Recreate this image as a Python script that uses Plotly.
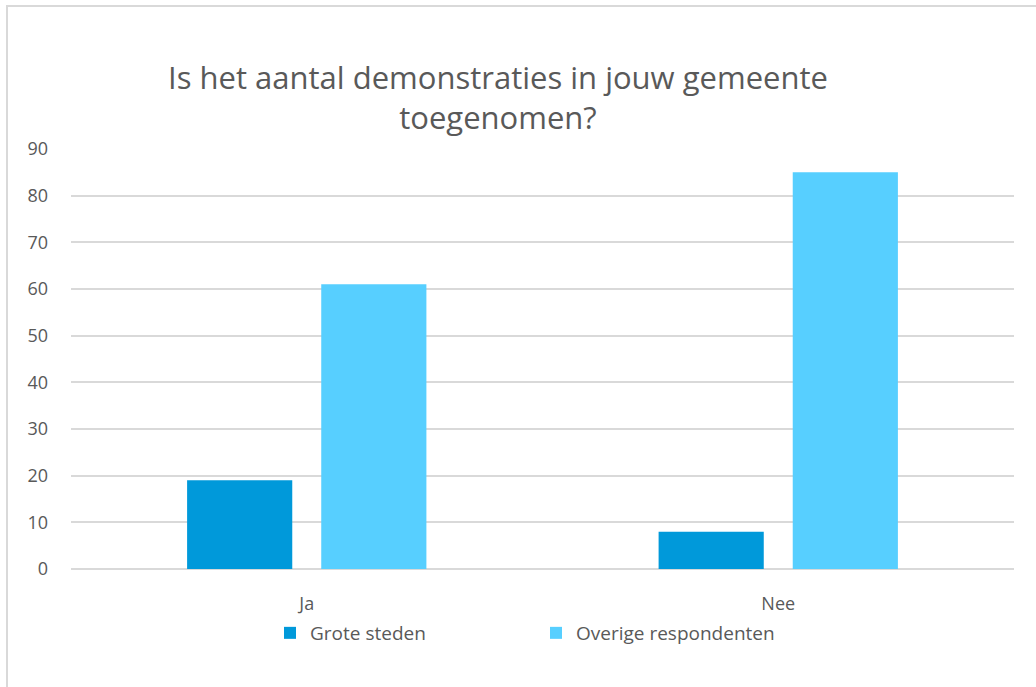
import plotly.graph_objects as go

categories = ["Ja", "Nee"]
grote_steden = [19, 8]
overige = [61, 85]
series_names = ["Grote steden", "Overige respondenten"]
title_text = "Is het aantal demonstraties in jouw gemeente<br>toegenomen?"
y_ticks = [0, 10, 20, 30, 40, 50, 60, 70, 80, 90]

FONT = "Open Sans"
GREY = "#595959"

fig = go.Figure()
fig.add_trace(go.Bar(name=series_names[0], x=categories, y=grote_steden,
                     marker=dict(color="#0099DA", line=dict(width=0))))
fig.add_trace(go.Bar(name=series_names[1], x=categories, y=overige,
                     marker=dict(color="#57CFFF", line=dict(width=0))))

fig.update_layout(
    width=1036, height=687,
    margin=dict(l=71, r=22, t=149, b=118, autoexpand=False),
    paper_bgcolor="white", plot_bgcolor="white",
    barmode="group", bargap=0.431, bargroupgap=0.216,
    font=dict(family=FONT, color=GREY, size=18),
    title=dict(text=title_text, x=498/1036, xanchor="center", y=1-89/687, yanchor="middle",
               font=dict(family=FONT, size=31, color=GREY)),
    xaxis=dict(showgrid=False, showline=False, ticks="", tickfont=dict(size=18, color=GREY),
               ticklabelstandoff=22, automargin=False),
    yaxis=dict(range=[0, 90], tickvals=y_ticks, showgrid=True, gridcolor="#D9D9D9", gridwidth=1.5,
               zeroline=True, zerolinecolor="#D9D9D9", zerolinewidth=1.5, showline=False,
               ticks="", tickfont=dict(size=18, color=GREY), ticklabelstandoff=22, automargin=False),
    legend=dict(orientation="h", x=536/1036, xref="container", xanchor="center", y=1-633/687, yref="container",
                yanchor="middle", font=dict(size=19, color=GREY), entrywidth=221, itemwidth=30),
    showlegend=True,
)
fig.add_shape(type="rect", xref="paper", yref="paper", x0=(7-71)/943, x1=1.2, y0=-0.6, y1=(569-6)/420,
              line=dict(color="#D9D9D9", width=2), fillcolor="rgba(0,0,0,0)", layer="below")
fig.write_html("out.html", config={"displayModeBar": False},
               post_script="document.body.style.margin='0';document.body.style.overflow='hidden';")
